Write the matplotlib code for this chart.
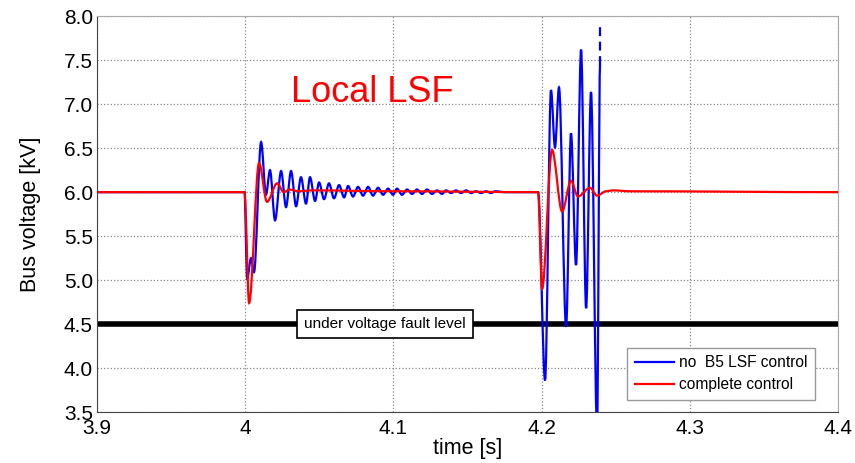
import matplotlib
matplotlib.use("Agg")
import matplotlib.pyplot as plt
from matplotlib.path import Path
from matplotlib.patches import PathPatch
from matplotlib.lines import Line2D

# blue: no B5 LSF control (extrema)
blue_t = [3.9, 3.9995, 4.0013, 4.0039, 4.0059, 4.0107, 4.0140, 4.0167, 4.0201,
          4.0242, 4.0275, 4.0309, 4.0343, 4.0376, 4.0410, 4.0437, 4.0471,
          4.0498, 4.0532, 4.0565, 4.0599, 4.0633, 4.0667, 4.0694, 4.0727,
          4.0761, 4.0795, 4.0829, 4.0862, 4.0896, 4.0930, 4.0964, 4.0997,
          4.1024, 4.1058, 4.1092, 4.1126, 4.1159, 4.1193, 4.1227, 4.1260,
          4.1294, 4.1328, 4.1355, 4.1389, 4.1422, 4.1456, 4.1490, 4.1524,
          4.1557, 4.1591, 4.1625, 4.1659, 4.1686, 4.175, 4.1976,
          4.2023, 4.2063, 4.2090, 4.2117, 4.2165, 4.2198, 4.2232, 4.2266,
          4.2300, 4.2333, 4.2374, 4.2394]
blue_v = [6.0, 6.0, 5.02, 5.25, 5.09, 6.57, 5.97, 6.25, 5.68,
          6.24, 5.83, 6.24, 5.84, 6.17, 5.87, 6.17, 5.90,
          6.11, 5.92, 6.10, 5.93, 6.08, 5.94, 6.07, 5.95,
          6.06, 5.96, 6.06, 5.96, 6.05, 5.97, 6.04, 5.97,
          6.04, 5.97, 6.03, 5.98, 6.03, 5.98, 6.03, 5.98,
          6.02, 5.98, 6.02, 5.99, 6.02, 5.99, 6.02, 5.99,
          6.01, 5.99, 6.01, 5.99, 6.01, 6.0, 6.0,
          3.86, 7.16, 6.51, 7.19, 4.47, 6.67, 5.17, 7.62,
          4.68, 7.14, 3.30, 7.45]
blue_dash_t = [4.2394, 4.2394]
blue_dash_v = [7.45, 7.92]

# red: complete control
red_t = [3.9, 3.9995, 4.0026, 4.0093, 4.0147, 4.0215, 4.0260, 4.0300, 4.0360,
         4.0450, 4.1000, 4.1976, 4.2003, 4.2070, 4.2138, 4.2198, 4.2245,
         4.2326, 4.2374, 4.2435, 4.2480, 4.2600, 4.4]
red_v = [6.0, 6.0, 4.74, 6.33, 5.89, 6.10, 6.00, 6.03, 6.01,
         6.02, 6.01, 6.0, 4.90, 6.48, 5.78, 6.13, 5.95,
         6.05, 5.96, 6.01, 6.02, 6.01, 6.0]

fault_level = 4.5
x_ticks = [3.9, 4.0, 4.1, 4.2, 4.3, 4.4]
x_labels = ["3.9", "4", "4.1", "4.2", "4.3", "4.4"]
y_ticks = [3.5, 4.0, 4.5, 5.0, 5.5, 6.0, 6.5, 7.0, 7.5, 8.0]


def smooth_path(ts, vs):
    # bezier segments through the read extrema, flat tangent at each one
    verts = [(ts[0], vs[0])]
    codes = [Path.MOVETO]
    for i in range(1, len(ts)):
        dt = ts[i] - ts[i - 1]
        verts += [(ts[i - 1] + dt / 3, vs[i - 1]), (ts[i] - dt / 3, vs[i]), (ts[i], vs[i])]
        codes += [Path.CURVE4] * 3
    return Path(verts, codes)


plt.rcParams['font.family'] = ['Liberation Sans', 'DejaVu Sans']

fig = plt.figure(figsize=(8.55, 4.63), dpi=100)
ax = fig.add_axes([0.1135, 0.110, 0.8667, 0.855])

ax.axhline(fault_level, color='black', linewidth=4, zorder=2)
ax.add_patch(PathPatch(smooth_path(blue_t, blue_v), facecolor='none',
                       edgecolor='#0000ff', linewidth=1.6, zorder=3))
ax.plot(blue_dash_t, blue_dash_v, color='#0000ff', linewidth=1.6, linestyle=(0, (4, 2.5)), zorder=3)
ax.add_patch(PathPatch(smooth_path(red_t, red_v), facecolor='none',
                       edgecolor='#ff0000', linewidth=1.6, zorder=4))

ax.set_xlim(3.9, 4.4)
ax.set_ylim(3.5, 8.0)
ax.set_xticks(x_ticks)
ax.set_xticklabels(x_labels)
ax.set_yticks(y_ticks)
ax.set_yticklabels([f"{v:.1f}" for v in y_ticks])
ax.tick_params(axis='both', labelsize=15, length=0)
ax.tick_params(axis='y', pad=3)
ax.tick_params(axis='x', pad=5)
ax.grid(True, linestyle=':', color='#888888', linewidth=0.9)

for s in ['top', 'right']:
    ax.spines[s].set_color('#aaaaaa')
for s in ['left', 'bottom']:
    ax.spines[s].set_color('#444444')

ax.set_xlabel("time [s]", fontsize=15.5, labelpad=0)
ax.set_ylabel("Bus voltage [kV]", fontsize=15.5)
ax.yaxis.set_label_coords(-0.075, 0.5)

ax.text(4.031, 7.13, "Local LSF", color='#ff0000', fontsize=26, va='center', ha='left')
ax.text(4.0943, fault_level, "under voltage fault level", fontsize=11, ha='center', va='center',
        bbox=dict(boxstyle='square,pad=0.45', facecolor='white', edgecolor='black', linewidth=1.2),
        zorder=5)

handles = [Line2D([], [], color='#0000ff', linewidth=1.6),
           Line2D([], [], color='#ff0000', linewidth=1.6)]
ax.legend(handles, ['no  B5 LSF control', 'complete control'],
          loc='lower right', bbox_to_anchor=(0.969, 0.03), borderaxespad=0, fontsize=11.2,
          fancybox=False, framealpha=1, edgecolor='#999999', handlelength=2.5,
          borderpad=0.5, labelspacing=0.45, handletextpad=0.3)

fig.savefig("out.png", dpi=100)
